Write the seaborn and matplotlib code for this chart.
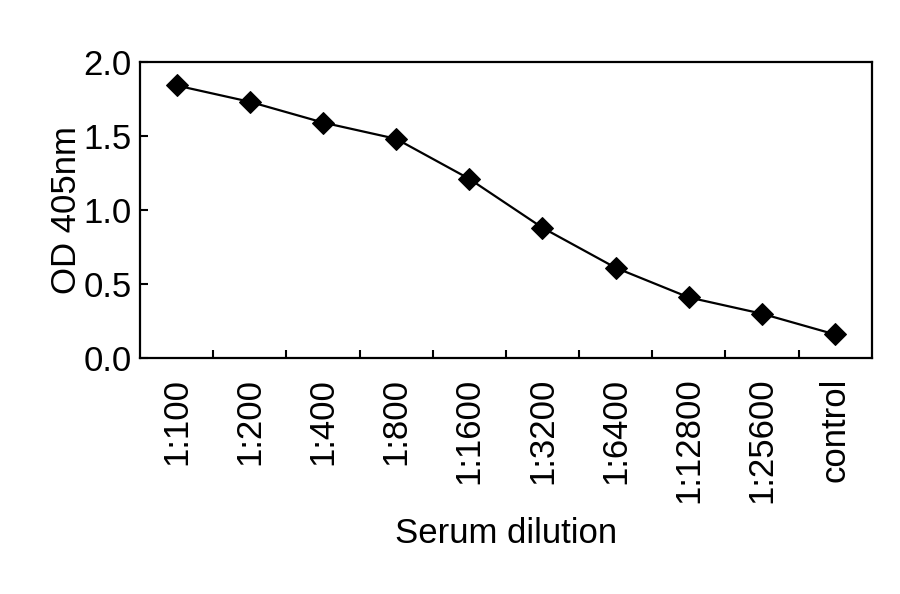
import numpy as np
import pandas as pd
import seaborn as sns
import matplotlib.pyplot as plt
from matplotlib.ticker import FixedLocator

dilutions = ["1:100", "1:200", "1:400", "1:800", "1:1600", "1:3200",
             "1:6400", "1:12800", "1:25600", "control"]
od405 = [1.84, 1.73, 1.59, 1.48, 1.21, 0.88, 0.61, 0.41, 0.30, 0.16]

sns.set_style("white")
plt.rcParams['font.family'] = ['Liberation Sans', 'DejaVu Sans']
plt.rcParams['text.color'] = 'black'
plt.rcParams['axes.labelcolor'] = 'black'
plt.rcParams['xtick.color'] = 'black'
plt.rcParams['ytick.color'] = 'black'

df = pd.DataFrame({"dilution": dilutions, "od": od405})
fig = plt.figure(figsize=(9, 5.94), dpi=100)
ax = fig.add_axes([0.1556, 0.397, 0.813, 0.499])

sns.lineplot(data=df, x="dilution", y="od", ax=ax, color="black", lw=1.6,
             marker="D", markersize=11, markeredgecolor="black", sort=False)

ax.set_xlim(-0.5, len(dilutions) - 0.5)
ax.set_ylim(0, 2.0)
ax.set_yticks([0, 0.5, 1.0, 1.5, 2.0])
ax.set_yticklabels(["0.0", "0.5", "1.0", "1.5", "2.0"])
ax.set_xticks(range(len(dilutions)))
ax.set_xticklabels(dilutions, rotation=90)
ax.xaxis.set_minor_locator(FixedLocator(np.arange(0.5, len(dilutions) - 1, 1)))
ax.tick_params(axis="x", which="major", length=0, labelsize=25, pad=14)
ax.tick_params(axis="x", which="minor", direction="in", length=6, width=1.5, bottom=True)
ax.tick_params(axis="y", direction="in", length=6, width=1.5, left=True, labelsize=25, pad=6)
for s in ax.spines.values():
    s.set_linewidth(1.6)
    s.set_color("black")

ax.set_xlabel("Serum dilution", fontsize=25, labelpad=10)
ax.set_ylabel("OD 405nm", fontsize=25, labelpad=0)

fig.savefig("out.png", dpi=100)
